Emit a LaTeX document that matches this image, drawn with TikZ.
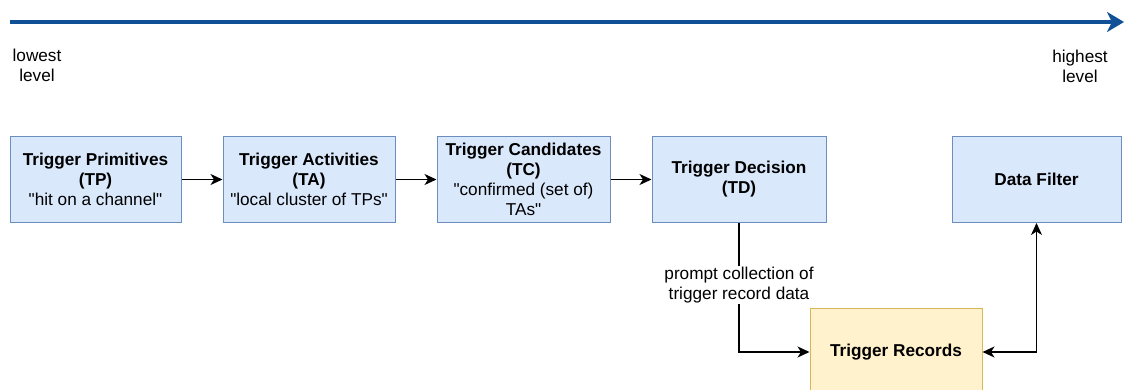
\documentclass[tikz,border=0pt]{standalone}
\usepackage{fontspec}
\setmainfont{Liberation Sans}
\usetikzlibrary{arrows.meta}
\definecolor{boxblue}{HTML}{DAE8FC}
\definecolor{edgeblue}{HTML}{6C8EBF}
\definecolor{boxyellow}{HTML}{FFF2CC}
\definecolor{edgeyellow}{HTML}{D6B656}
\definecolor{axisblue}{RGB}{16,80,150}
\newcommand{\qt}[1]{\textquotedbl#1\textquotedbl}
\tikzset{
  base/.style={font=\fontsize{17.2}{20}\selectfont, align=center, inner sep=0pt},
  stage/.style={base, draw=edgeblue, fill=boxblue, line width=1pt, minimum height=86pt},
  store/.style={base, draw=edgeyellow, fill=boxyellow, line width=1pt, minimum height=88pt},
  lbl/.style={base, fill=white, inner sep=1pt},
  flow/.style={line width=1.5pt, -{Stealth[length=12pt,width=11pt,inset=3.5pt]}},
  flow2/.style={line width=1.5pt, {Stealth[length=12pt,width=11pt,inset=3.5pt]}-{Stealth[length=12pt,width=11pt,inset=3.5pt]}},
}
\begin{document}
\begin{tikzpicture}[x=1pt,y=-1pt]
\useasboundingbox (0,0) rectangle (1124,390);
\begin{scope}
\clip (0,0) rectangle (1124,390);

% level axis
\coordinate (axL) at (10,22);
\coordinate (axR) at (1124,22);
\draw[axisblue, line width=3.5pt, -{Stealth[length=17pt,width=20pt,inset=5pt]}] (axL) -- (axR);
\node[base] (low) at (37,65.5) {lowest\\level};
\node[base] (high) at (1080,66) {highest\\level};

% trigger chain
\node[stage, minimum width=171pt] (TP) at (95.5,179.5) {\textbf{Trigger Primitives}\\\textbf{(TP)}\\\qt{hit on a channel}};
\node[stage, minimum width=172pt] (TA) at (309,179.5) {\textbf{Trigger Activities}\\\textbf{(TA)}\\\qt{local cluster of TPs}};
\node[stage, minimum width=173pt] (TC) at (523.5,179.5) {\textbf{Trigger Candidates}\\\textbf{(TC)}\\\textquotedbl confirmed (set of)\\TAs\textquotedbl};
\node[stage, minimum width=174pt] (TD) at (739,179.5) {\textbf{Trigger Decision}\\\textbf{(TD)}};
\node[stage, minimum width=169pt] (DF) at (1036.5,179.5) {\textbf{Data Filter}};
\node[store, minimum width=172pt] (TR) at (896,352) {\textbf{Trigger Records}};

\draw[flow] (TP) -- (TA);
\draw[flow] (TA) -- (TC);
\draw[flow] (TC) -- (TD);

\node[lbl] (prompt) at (739,285) {prompt collection of\\trigger record data};
\draw[line width=1.5pt] (TD.south) -- (prompt.north);
\draw[flow] (prompt.south) |- (TR.west);
\draw[flow2] (TR.east) -| (DF.south);
\end{scope}
\end{tikzpicture}
\end{document}
